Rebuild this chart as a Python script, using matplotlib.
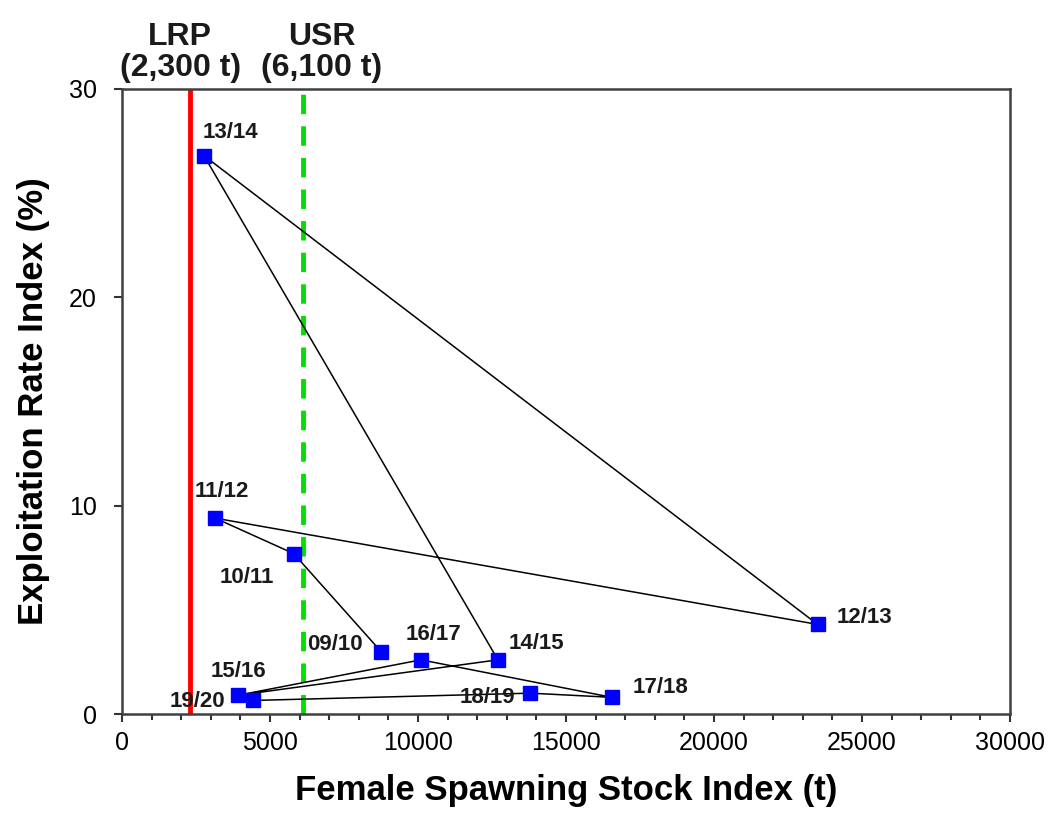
import matplotlib
matplotlib.use('Agg')
import matplotlib.pyplot as plt
from matplotlib.ticker import MultipleLocator

plt.rcParams['font.family'] = ['Liberation Sans', 'DejaVu Sans']

# data
seasons = ['09/10', '10/11', '11/12', '12/13', '13/14', '14/15',
           '15/16', '16/17', '17/18', '18/19', '19/20']
ssb = [8750, 5800, 3150, 23500, 2770, 12700, 3920, 10100, 16550, 13800, 4430]
er = [3.0, 7.7, 9.4, 4.3, 26.8, 2.6, 0.9, 2.6, 0.8, 1.0, 0.65]

lrp = 2300
usr = 6100
ref_labels = ['LRP\n(2,300 t)', 'USR\n(6,100 t)']

# label centre offsets from the marker, in points
offsets = {
    '09/10': (-33, 5),
    '10/11': (-34, -17),
    '11/12': (5, 19),
    '12/13': (34, 5),
    '13/14': (19, 17),
    '14/15': (28, 12),
    '15/16': (0, 17),
    '16/17': (9, 18),
    '17/18': (35, 7),
    '18/19': (-31, -3),
    '19/20': (-40, -1),
}


def main():
    fig = plt.figure(figsize=(10.49, 8.33), dpi=100)
    ax = fig.add_axes([122/1049, 1 - 714/833, (1010 - 122)/1049, (714 - 89)/833])

    ax.axvline(lrp, color='#ff0000', lw=3.5, zorder=1)
    ax.axvline(usr, color='#00e000', lw=3.5, ls=(0, (4, 2.5)), zorder=1)

    ax.plot(ssb, er, color='black', lw=1.1, zorder=2)
    ax.plot(ssb, er, ls='none', marker='s', ms=10.5, color='#0000ff', zorder=3)

    for s, x, y in zip(seasons, ssb, er):
        dx, dy = offsets[s]
        ax.annotate(s, (x, y), xytext=(dx, dy), textcoords='offset points',
                    ha='center', va='center', fontsize=16,
                    fontweight='bold', color='#1a1a1a')

    ax.set_xlim(0, 30000)
    ax.set_ylim(0, 30)
    ax.xaxis.set_major_locator(MultipleLocator(5000))
    ax.xaxis.set_minor_locator(MultipleLocator(1000))
    ax.yaxis.set_major_locator(MultipleLocator(10))
    ax.tick_params(axis='both', which='major', direction='out', length=6,
                   width=1.5, labelsize=18, color='#333333')
    ax.tick_params(axis='x', which='major', pad=6)
    ax.tick_params(axis='y', which='major', pad=12)
    ax.tick_params(axis='x', which='minor', direction='out', length=4,
                   width=1.5, color='#333333')
    for sp in ax.spines.values():
        sp.set_linewidth(1.8)
        sp.set_color('#404040')

    ax.set_xlabel('Female Spawning Stock Index (t)', fontsize=25,
                  fontweight='bold', labelpad=14)
    ax.set_ylabel('Exploitation Rate Index (%)', fontsize=25,
                  fontweight='bold', labelpad=14)

    # reference point labels above the frame
    for xv, txt, dx in zip([lrp, usr], ref_labels, [-7, 14]):
        ax.annotate(txt, (xv, 1.0), xycoords=('data', 'axes fraction'),
                    xytext=(dx, 4), textcoords='offset points',
                    ha='center', va='bottom', fontsize=23, fontweight='bold',
                    color='#1a1a1a', linespacing=1.05)

    fig.savefig('out.png', dpi=100)


if __name__ == '__main__':
    main()
